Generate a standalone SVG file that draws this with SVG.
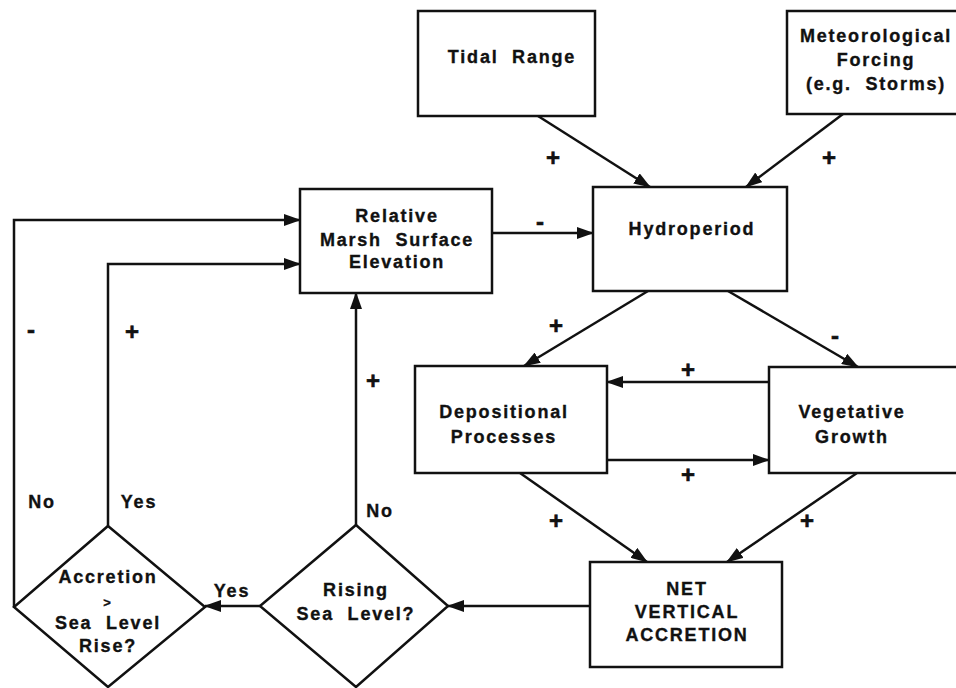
<svg xmlns="http://www.w3.org/2000/svg" width="956" height="688" viewBox="0 0 956 688">
<style>
.box{fill:#fff;stroke:#111;stroke-width:2.5}
.t{font-family:"Liberation Sans",Arial,sans-serif;font-weight:bold;font-size:18px;letter-spacing:1.8px;fill:#111;stroke:#111;stroke-width:0.35;text-anchor:middle;white-space:pre}
.s{font-family:"Liberation Sans",Arial,sans-serif;font-weight:bold;font-size:24px;fill:#111;stroke:#111;stroke-width:0.6;text-anchor:middle}
.c{fill:none;stroke:#111;stroke-width:2.5}
</style>
<defs>
<marker id="ah" markerUnits="userSpaceOnUse" markerWidth="18" markerHeight="12" refX="16" refY="6" orient="auto">
<path d="M0,0 L17,6 L0,12 Z" fill="#111"/>
</marker>
</defs>
<rect width="956" height="688" fill="#fff"/>
<g id="connectors">
<line class="c" x1="538" y1="116" x2="650" y2="187" marker-end="url(#ah)"/>
<line class="c" x1="843" y1="114" x2="746" y2="187" marker-end="url(#ah)"/>
<line class="c" x1="492" y1="233" x2="593" y2="233" marker-end="url(#ah)"/>
<line class="c" x1="648" y1="291" x2="524" y2="366" marker-end="url(#ah)"/>
<line class="c" x1="728" y1="291" x2="858" y2="367" marker-end="url(#ah)"/>
<line class="c" x1="769" y1="382" x2="607" y2="382" marker-end="url(#ah)"/>
<line class="c" x1="607" y1="460" x2="769" y2="460" marker-end="url(#ah)"/>
<line class="c" x1="520" y1="473" x2="647" y2="562" marker-end="url(#ah)"/>
<line class="c" x1="857" y1="473" x2="727" y2="562" marker-end="url(#ah)"/>
<line class="c" x1="590" y1="606" x2="448" y2="606" marker-end="url(#ah)"/>
<line class="c" x1="260" y1="606" x2="205" y2="606" marker-end="url(#ah)"/>
<line class="c" x1="356" y1="525" x2="356" y2="293" marker-end="url(#ah)"/>
<polyline class="c" points="108,526 108,264 300,264" marker-end="url(#ah)"/>
<polyline class="c" points="14,607 14,220 300,220" marker-end="url(#ah)"/>
<text class="s" x="553" y="166">+</text>
<text class="s" x="829" y="166">+</text>
<text class="s" x="540" y="230">-</text>
<text class="s" x="556" y="334">+</text>
<text class="s" x="835" y="344">-</text>
<text class="s" x="688" y="378">+</text>
<text class="s" x="688" y="483">+</text>
<text class="s" x="556" y="529">+</text>
<text class="s" x="807" y="529">+</text>
<text class="s" x="373" y="389">+</text>
<text class="s" x="31" y="338">-</text>
<text class="s" x="132" y="340">+</text>
<text class="t" x="232" y="597">Yes</text>
<text class="t" x="42" y="508">No</text>
<text class="t" x="139" y="508">Yes</text>
<text class="t" x="380" y="517">No</text>
</g>
<g id="tidal">
<rect class="box" x="418" y="11" width="177" height="105"/>
<text class="t" x="512" y="63">Tidal  Range</text>
</g>
<g id="meteo">
<rect class="box" x="787" y="11" width="175" height="103"/>
<text class="t" x="876" y="42">Meteorological</text>
<text class="t" x="876" y="66">Forcing</text>
<text class="t" x="876" y="90">(e.g.  Storms)</text>
</g>
<g id="marsh">
<rect class="box" x="300" y="189" width="192" height="104"/>
<text class="t" x="397" y="222">Relative</text>
<text class="t" x="397" y="246">Marsh  Surface</text>
<text class="t" x="397" y="268">Elevation</text>
</g>
<g id="hydro">
<rect class="box" x="593" y="187" width="194" height="104"/>
<text class="t" x="692" y="235">Hydroperiod</text>
</g>
<g id="depos">
<rect class="box" x="415" y="366" width="192" height="107"/>
<text class="t" x="504" y="418">Depositional</text>
<text class="t" x="504" y="443">Processes</text>
</g>
<g id="veg">
<rect class="box" x="769" y="367" width="190" height="106"/>
<text class="t" x="852" y="418">Vegetative</text>
<text class="t" x="852" y="443">Growth</text>
</g>
<g id="net">
<rect class="box" x="590" y="562" width="192" height="105"/>
<text class="t" x="687" y="595">NET</text>
<text class="t" x="687" y="618">VERTICAL</text>
<text class="t" x="687" y="641">ACCRETION</text>
</g>
<g id="rising">
<polygon class="box" points="356,525 448,606 356,687 260,606"/>
<text class="t" x="356" y="596">Rising</text>
<text class="t" x="356" y="620">Sea  Level?</text>
</g>
<g id="accretion">
<polygon class="box" points="108,526 205,607 108,687 14,607"/>
<text class="t" x="108" y="583">Accretion</text>
<text class="t" x="108" y="607" style="font-size:13px">&gt;</text>
<text class="t" x="108" y="629">Sea  Level</text>
<text class="t" x="108" y="652">Rise?</text>
</g>
</svg>
